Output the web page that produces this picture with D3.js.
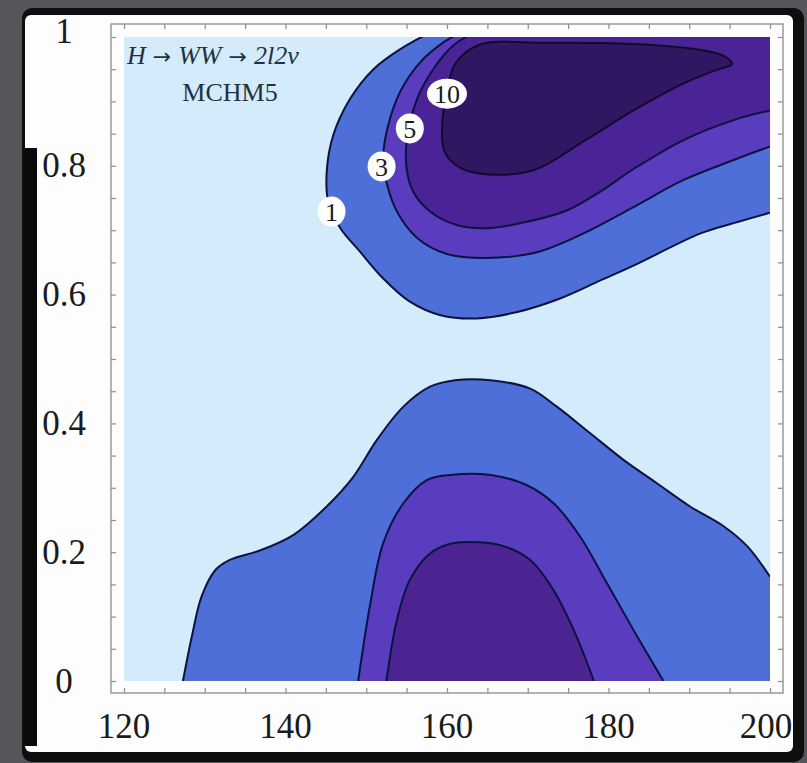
<!DOCTYPE html>
<html>
<head>
<meta charset="utf-8">
<script src="https://cdn.jsdelivr.net/npm/d3@7"></script>
<style>
  body { margin: 0; background: #54565b; }
  svg { display: block; }
  .tick-label { font-family: "Liberation Serif", "DejaVu Serif", serif; fill: #1b1b1b; }
</style>
</head>
<body>
<svg id="chart" width="807" height="763"></svg>
<script>
// tick labels
const xTickLabels = [120, 140, 160, 180, 200];
const yTickLabels = [0, 0.2, 0.4, 0.6, 0.8, 1];

// contour lines, [mH, value]
// upper group (runs into the top / right edges)
const upper1 = [[157.6, 1.005], [154.2, 0.981], [150.9, 0.950], [148.0, 0.904], [145.9, 0.847],
  [145.1, 0.790], [145.3, 0.744], [146.8, 0.703], [149.2, 0.667], [152.1, 0.625], [155.4, 0.589],
  [159.2, 0.568], [163.7, 0.563], [168.7, 0.573], [174.0, 0.594], [179.0, 0.622], [183.1, 0.645],
  [191.4, 0.695], [195.5, 0.711], [200, 0.727]];
const upper3 = [[161.4, 1.005], [159.6, 0.992], [156.7, 0.961], [154.2, 0.915], [152.6, 0.857],
  [152.1, 0.811], [152.6, 0.770], [153.8, 0.729], [156.3, 0.688], [160.0, 0.663], [164.9, 0.657],
  [170.9, 0.665], [176.9, 0.695], [183.1, 0.736], [189.3, 0.778], [195.5, 0.809], [200, 0.830]];
const upper5 = [[163.0, 1.005], [160.8, 0.987], [158.3, 0.950], [156.3, 0.904], [155.0, 0.837],
  [155.0, 0.796], [155.8, 0.760], [157.9, 0.729], [161.2, 0.708], [164.9, 0.703], [169.9, 0.713],
  [174.9, 0.731], [179.0, 0.760], [183.1, 0.795], [189.3, 0.840], [195.5, 0.871], [200, 0.886]];
const upper10 = [[164.0, 0.988], [161.0, 0.958], [160.0, 0.915], [159.4, 0.863], [159.7, 0.822],
  [161.6, 0.797], [164.8, 0.787], [170.7, 0.793], [176.9, 0.838], [183.1, 0.886], [189.3, 0.928],
  [193.4, 0.949], [195.3, 0.958], [194.2, 0.971], [191.4, 0.980], [183.1, 0.989], [172.0, 0.991]];

// lower group (starts and ends on the bottom / right edges)
const lower1 = [[127.3, 0], [128.4, 0.069], [129.6, 0.131], [131.3, 0.172], [133.1, 0.188],
  [136.9, 0.203], [141.0, 0.227], [145.1, 0.271], [148.4, 0.317], [151.3, 0.374], [154.6, 0.426],
  [157.9, 0.457], [161.0, 0.467], [165.4, 0.467], [170.3, 0.454], [173.6, 0.426], [177.7, 0.385],
  [181.9, 0.343], [186.0, 0.307], [190.1, 0.271], [194.3, 0.240], [197.2, 0.209], [200, 0.162]];
const lower3 = [[149.0, 0], [150.5, 0.120], [152.1, 0.214], [154.6, 0.276], [157.5, 0.312],
  [160.4, 0.320], [165.4, 0.320], [169.9, 0.304], [173.2, 0.276], [176.5, 0.224], [179.8, 0.152],
  [183.1, 0.079], [186.8, 0]];
const lower5 = [[152.5, 0], [153.8, 0.095], [155.4, 0.157], [157.9, 0.198], [160.4, 0.213],
  [162.5, 0.216], [166.6, 0.211], [170.3, 0.188], [173.2, 0.141], [175.7, 0.079], [178.2, 0]];

// contour labels
const contourLabels = [
  { text: "1", x: 145.7, y: 0.729 },
  { text: "3", x: 151.9, y: 0.799 },
  { text: "5", x: 155.4, y: 0.858 },
  { text: "10", x: 160.0, y: 0.912 }
];

const svg = d3.select("#chart");
const W = 807, H = 763;

// photo backdrop: grey table, dark edge, white card
svg.append("rect").attr("width", W).attr("height", H).attr("fill", "#54565b");
svg.append("rect").attr("x", 22).attr("y", 8).attr("width", 782).attr("height", 754)
  .attr("rx", 10).attr("fill", "#0e0e0e");
svg.append("rect").attr("x", 25).attr("y", 15).attr("width", 768).attr("height", 737)
  .attr("rx", 6).attr("fill", "#fdfdfd");
svg.append("rect").attr("x", 25).attr("y", 148).attr("width", 12).attr("height", 598)
  .attr("fill", "#0a0a0a");

const x = d3.scaleLinear().domain([120, 200]).range([124, 770]);
const y = d3.scaleLinear().domain([0, 1]).range([681, 37]);
const pad = 13;
const frame = { left: x(120) - pad, right: x(200) + pad, top: y(1) - pad, bottom: y(0) + 12 };

svg.append("clipPath").attr("id", "plotClip")
  .append("rect")
  .attr("x", x(120)).attr("y", y(1))
  .attr("width", x(200) - x(120)).attr("height", y(0) - y(1));

const line = d3.line().x(d => x(d[0])).y(d => y(d[1])).curve(d3.curveCatmullRom.alpha(0.5));
const closedLine = d3.line().x(d => x(d[0])).y(d => y(d[1])).curve(d3.curveCatmullRomClosed.alpha(0.5));

// filled region = contour + a few corner points outside the plot range
function region(pts, corners) {
  return line(pts) + corners.map(c => "L" + x(c[0]) + "," + y(c[1])).join("") + "Z";
}

const plot = svg.append("g").attr("clip-path", "url(#plotClip)");

plot.append("rect")
  .attr("x", x(120)).attr("y", y(1))
  .attr("width", x(200) - x(120)).attr("height", y(0) - y(1))
  .attr("fill", "#d3ebfa");

const fills = [
  { d: region(upper1, [[203, 0.74], [203, 1.05], [157.6, 1.05]]), c: "#4d6fd7" },
  { d: region(upper3, [[203, 0.84], [203, 1.05], [161.4, 1.05]]), c: "#5a3cbf" },
  { d: region(upper5, [[203, 0.89], [203, 1.05], [163.0, 1.05]]), c: "#4a2497" },
  { d: closedLine(upper10), c: "#311762" },
  { d: region(lower1, [[203, 0.15], [203, -0.05], [127.3, -0.05]]), c: "#4d6fd7" },
  { d: region(lower3, [[186.8, -0.05], [149.0, -0.05]]), c: "#5a3cbf" },
  { d: region(lower5, [[178.2, -0.05], [152.5, -0.05]]), c: "#4b2491" }
];

plot.selectAll("path.fill")
  .data(fills)
  .enter()
  .append("path")
  .attr("class", "fill")
  .attr("d", d => d.d)
  .attr("fill", d => d.c);

plot.selectAll("path.contour")
  .data([upper1, upper3, upper5, lower1, lower3, lower5])
  .enter()
  .append("path")
  .attr("class", "contour")
  .attr("d", line)
  .attr("fill", "none")
  .attr("stroke", "#0b1340")
  .attr("stroke-width", 2);

plot.append("path")
  .attr("d", closedLine(upper10))
  .attr("fill", "none")
  .attr("stroke", "#120a2c")
  .attr("stroke-width", 2);

// contour labels
const lab = plot.selectAll("g.clabel")
  .data(contourLabels)
  .enter()
  .append("g")
  .attr("class", "clabel")
  .attr("transform", d => `translate(${x(d.x)},${y(d.y)})`);

lab.append("ellipse")
  .attr("rx", d => (d.text.length > 1 ? 20 : 14))
  .attr("ry", 15)
  .attr("fill", "#ffffff");

lab.append("text")
  .attr("class", "tick-label")
  .attr("text-anchor", "middle")
  .attr("dy", "0.35em")
  .style("font-size", "26px")
  .text(d => d.text);

// frame + inward ticks
svg.append("rect")
  .attr("x", frame.left).attr("y", frame.top)
  .attr("width", frame.right - frame.left).attr("height", frame.bottom - frame.top)
  .attr("fill", "none")
  .attr("stroke", "#8c8c8c")
  .attr("stroke-width", 1.3);

const xMinor = d3.range(120, 201, 5);
const yMinor = d3.range(0, 1.0001, 0.05);

function tickStyle(g) {
  g.select(".domain").remove();
  g.selectAll(".tick line").attr("stroke", "#8c8c8c").attr("stroke-width", 1.2);
}

svg.append("g")
  .attr("transform", `translate(0,${frame.bottom})`)
  .call(d3.axisTop(x).tickValues(xMinor).tickSize(5).tickFormat(""))
  .call(tickStyle);
svg.append("g")
  .attr("transform", `translate(0,${frame.top})`)
  .call(d3.axisBottom(x).tickValues(xMinor).tickSize(5).tickFormat(""))
  .call(tickStyle);
svg.append("g")
  .attr("transform", `translate(${frame.left},0)`)
  .call(d3.axisRight(y).tickValues(yMinor).tickSize(5).tickFormat(""))
  .call(tickStyle);
svg.append("g")
  .attr("transform", `translate(${frame.right},0)`)
  .call(d3.axisLeft(y).tickValues(yMinor).tickSize(5).tickFormat(""))
  .call(tickStyle);

// tick labels
svg.append("g")
  .selectAll("text")
  .data(xTickLabels)
  .enter()
  .append("text")
  .attr("class", "tick-label")
  .attr("x", d => x(d) - (d === 200 ? 4 : 0))
  .attr("y", frame.bottom + 45)
  .attr("text-anchor", "middle")
  .style("font-size", "35px")
  .text(d => d);

svg.append("g")
  .selectAll("text")
  .data(yTickLabels)
  .enter()
  .append("text")
  .attr("class", "tick-label")
  .attr("x", 64)
  .attr("y", d => y(d) - (d === 1 ? 6 : 0))
  .attr("dy", "0.33em")
  .attr("text-anchor", "middle")
  .style("font-size", "35px")
  .text(d => d);

// process label
const note = svg.append("g")
  .style("font-family", "'Liberation Serif', 'DejaVu Serif', serif")
  .style("fill", "#1d3342")
  .style("font-size", "26px");

const t1 = note.append("text").attr("x", 127).attr("y", 64);
t1.append("tspan").style("font-style", "italic").text("H");
t1.append("tspan").style("font-family", "'DejaVu Sans', sans-serif").style("font-size", "22px").text(" \u2192 ");
t1.append("tspan").style("font-style", "italic").text("WW");
t1.append("tspan").style("font-family", "'DejaVu Sans', sans-serif").style("font-size", "22px").text(" \u2192 ");
t1.append("tspan").style("font-style", "italic").text("2l2\u03bd");

note.append("text")
  .attr("x", 230)
  .attr("y", 101)
  .attr("text-anchor", "middle")
  .text("MCHM5");
</script>
</body>
</html>
